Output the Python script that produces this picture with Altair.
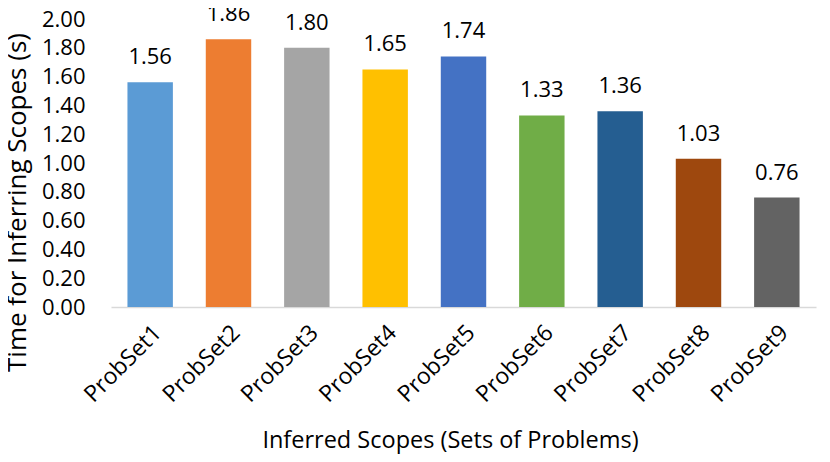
import altair as alt
import pandas as pd

categories = ["ProbSet1", "ProbSet2", "ProbSet3", "ProbSet4", "ProbSet5",
              "ProbSet6", "ProbSet7", "ProbSet8", "ProbSet9"]
values = [1.56, 1.86, 1.80, 1.65, 1.74, 1.33, 1.36, 1.03, 0.76]
colors = ["#5B9BD5", "#ED7D31", "#A5A5A5", "#FFC000", "#4472C4",
          "#70AD47", "#255E91", "#9E480E", "#636363"]

df = pd.DataFrame({"cat": categories, "val": values, "color": colors})
FONT = "Open Sans"

base = alt.Chart(df).encode(
    x=alt.X("cat:N", sort=categories,
            scale=alt.Scale(paddingInner=0.42, paddingOuter=0.21),
            axis=alt.Axis(title="Inferred Scopes (Sets of Problems)", labelAngle=-45,
                          labelFontSize=23, labelFont=FONT, labelColor="#000000",
                          titleFontSize=23.5, titleFont=FONT, titleFontWeight="normal",
                          titleColor="#000000", titleX=339, titleY=133,
                          titleBaseline="middle", titleAlign="center",
                          ticks=False, domainColor="#D9D9D9", domainWidth=1.5,
                          labelPadding=14)),
    y=alt.Y("val:Q", scale=alt.Scale(domain=[0, 2.0]),
            axis=alt.Axis(title="Time for Inferring Scopes (s)", values=[i * 0.2 for i in range(11)],
                          format=".2f", grid=False, domain=False, ticks=False,
                          labelFontSize=22, labelFont=FONT, labelColor="#000000",
                          titleFontSize=26, titleFont=FONT, titleFontWeight="normal",
                          titleColor="#000000", labelPadding=0, offset=26,
                          titleX=-68, titleY=183, titleBaseline="middle", titleAlign="center")),
)

bars = base.mark_bar().encode(color=alt.Color("color:N", scale=None))
labels = base.mark_text(dy=-25, fontSize=22, font=FONT, color="#000000").encode(
    text=alt.Text("val:Q", format=".2f"))

chart = (bars + labels).properties(
    width=705, height=288,
    autosize=alt.AutoSizeParams(type="none"),
    padding={"left": 103, "top": 11, "right": 6, "bottom": 147},
).configure_view(stroke=None)

chart.save("out.html", embed_options={"renderer": "svg", "actions": False})
